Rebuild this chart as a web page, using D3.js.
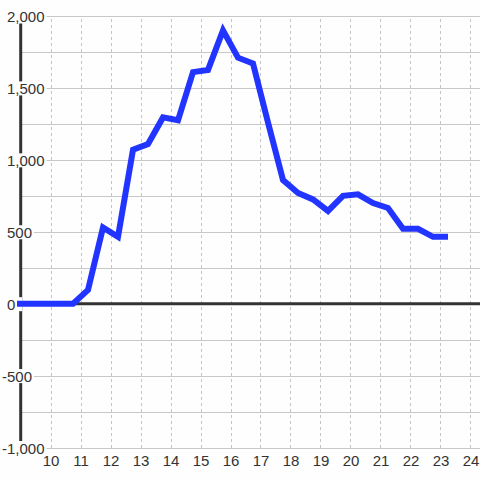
<!DOCTYPE html>
<html>
<head>
<meta charset="utf-8">
<script src="https://cdn.jsdelivr.net/npm/d3@7"></script>
<style>
  html, body { margin: 0; padding: 0; background: #fdfefd; }
  svg { display: block; }
  text { font-family: "Liberation Sans", Arial, sans-serif; fill: #333; }
</style>
</head>
<body>
<svg id="chart" width="480" height="480"></svg>
<script>
// Data
const hours = [8.75, 9.25, 9.75, 10.25, 10.75, 11.25, 11.75, 12.25, 12.75, 13.25,
               13.75, 14.25, 14.75, 15.25, 15.75, 16.25, 16.75, 17.25, 17.75, 18.25,
               18.75, 19.25, 19.75, 20.25, 20.75, 21.25, 21.75, 22.25, 22.75, 23.25];
const values = [0, 0, 0, 0, 0, 95, 530, 465, 1070, 1110,
                1295, 1275, 1610, 1625, 1900, 1710, 1670, 1260, 860, 770,
                725, 645, 750, 760, 700, 665, 520, 520, 465, 465];
const xTickValues = [10, 11, 12, 13, 14, 15, 16, 17, 18, 19, 20, 21, 22, 23, 24];
const yTickValues = [-1000, -500, 0, 500, 1000, 1500, 2000];
const yGridValues = [-1000, -750, -500, -250, 0, 250, 500, 750, 1000, 1250, 1500, 1750, 2000];

const W = 480, H = 480;
const svg = d3.select("#chart");

const x = d3.scaleLinear().domain([8.8833, 24.3167]).range([17, 480]);
const y = d3.scaleLinear().domain([-1000, 2000]).range([447.5, 16]);
const axisX = 20.7;
const fmt = d => d3.format(",")(d).replace("\u2212", "-");

svg.append("rect").attr("width", W).attr("height", H).attr("fill", "#fdfefd");

// horizontal grid
const hg = svg.append("g").attr("transform", `translate(${axisX},0)`)
  .call(d3.axisRight(y).tickValues(yGridValues).tickSize(W - axisX).tickFormat(""));
hg.select(".domain").remove();
hg.selectAll("line").attr("stroke", "#c8c8c8").attr("stroke-width", 1)
  .attr("shape-rendering", "crispEdges");

// vertical dashed grid
const vg = svg.append("g").attr("transform", `translate(0,${y(-1000)})`)
  .call(d3.axisTop(x).tickValues(xTickValues).tickSize(y(-1000) - y(2000)).tickFormat(""));
vg.select(".domain").remove();
vg.selectAll("line").attr("stroke", "#c4c4c4").attr("stroke-width", 1)
  .attr("stroke-dasharray", "3,3").attr("shape-rendering", "crispEdges");

// left axis line
svg.append("line")
  .attr("x1", axisX).attr("x2", axisX)
  .attr("y1", y(2000)).attr("y2", y(-1000))
  .attr("stroke", "#333").attr("stroke-width", 3);

// zero line
svg.append("line")
  .attr("x1", axisX - 1.5).attr("x2", W)
  .attr("y1", y(0)).attr("y2", y(0))
  .attr("stroke", "#333").attr("stroke-width", 3);

// y labels with background boxes
const yl = svg.append("g")
  .call(d3.axisLeft(y).tickValues(yTickValues).tickSize(0).tickFormat(fmt));
yl.select(".domain").remove();
yl.selectAll(".tick").each(function(d) {
  const g = d3.select(this);
  const t = g.select("text")
    .attr("text-anchor", "start")
    .attr("x", d < 0 ? 2 : 7)
    .attr("dy", null)
    .attr("y", 5.5)
    .style("font-size", "15px")
    .attr("fill", "#333");
  const bb = t.node().getBBox();
  g.insert("rect", "text")
    .attr("x", bb.x - 2)
    .attr("y", -7)
    .attr("width", Math.max(bb.width + 4, 24 - bb.x))
    .attr("height", 14)
    .attr("fill", "#fdfefd");
});

// x labels
const xl = svg.append("g").attr("transform", `translate(0,${y(-1000)})`)
  .call(d3.axisBottom(x).tickValues(xTickValues).tickSize(0).tickFormat(d3.format("d")));
xl.select(".domain").remove();
xl.selectAll("text").attr("dy", null).attr("y", 18.5)
  .style("font-size", "15px").attr("fill", "#333");

// data line
svg.append("clipPath").attr("id", "plotclip")
  .append("rect").attr("x", 17).attr("y", 0).attr("width", W - 17).attr("height", H);

const line = d3.line().x((d, i) => x(hours[i])).y(d => y(d));
svg.append("path")
  .datum(values)
  .attr("clip-path", "url(#plotclip)")
  .attr("d", line)
  .attr("fill", "none")
  .attr("stroke", "#2234ff")
  .attr("stroke-width", 6)
  .attr("stroke-linejoin", "miter")
  .attr("stroke-linecap", "butt");
</script>
</body>
</html>
